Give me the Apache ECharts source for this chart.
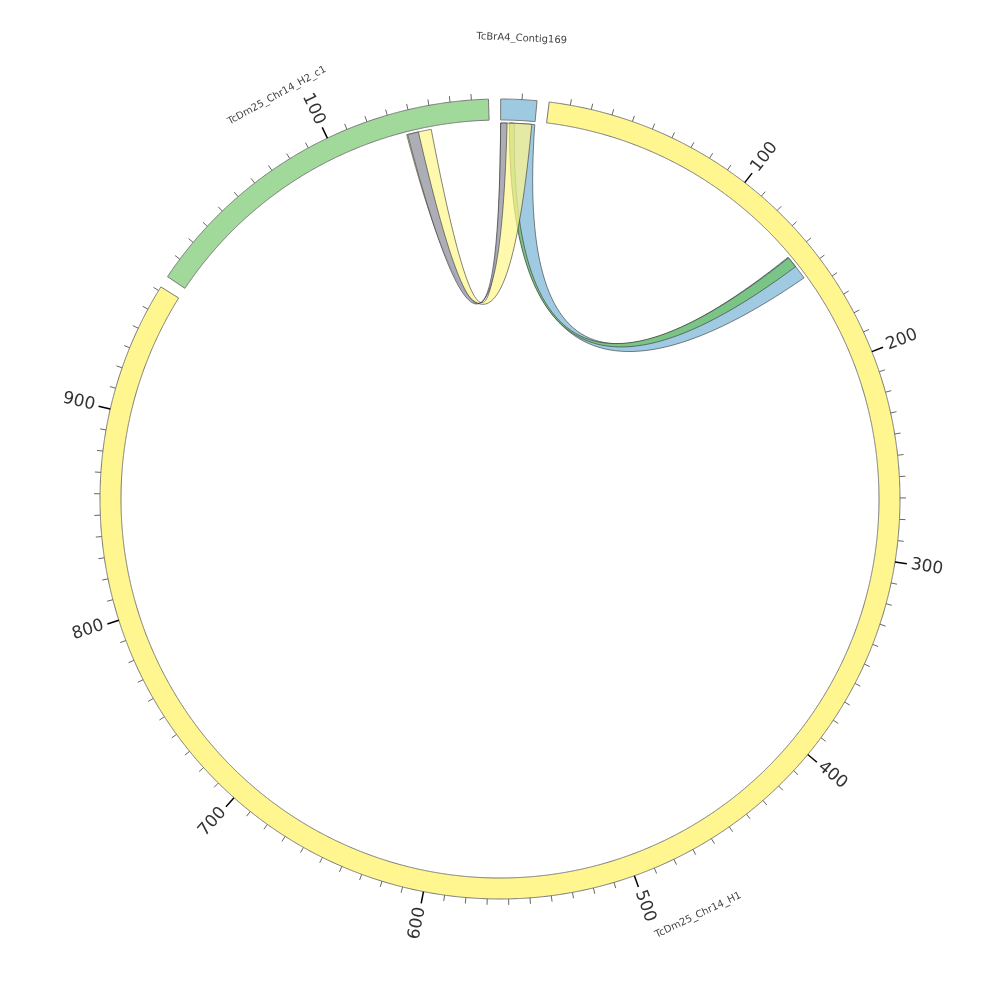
<!DOCTYPE html>
<html><head><meta charset="utf-8">
<script src="https://cdn.jsdelivr.net/npm/echarts@6/dist/echarts.min.js"></script>
<style>html,body{margin:0;padding:0;background:#fff}#c{width:1000px;height:1000px}</style>
</head><body><div id="c"></div>
<script>
// ---- data ----
const segNames = ['TcBrA4_Contig169', 'TcDm25_Chr14_H1', 'TcDm25_Chr14_H2_c1'];
const segLengths = [17, 962, 178];
const segColors = ['#9ecae1', '#fff68f', '#a1d99b'];
const majorTickStep = 100;
const minorTickStep = 10;
const tickLabelsH1 = ['100','200','300','400','500','600','700','800','900'];
const tickLabelsH2 = ['100'];
// chords (segment index, start, end) on both sides, drawn in this order
const chordSegA   = [1, 1, 2, 2];
const chordStartA = [140, 140.4, 136.5, 137];
const chordEndA   = [153, 146, 149, 142.5];
const chordSegB   = [0, 0, 0, 0];
const chordStartB = [4.5, 4.3, 0, 0];
const chordEndB   = [17, 6.8, 15.5, 3.2];
const chordColors = ['#8fc0dd', '#74c476', '#fff68f', '#9fa0b8'];
const chordAlpha  = [0.85, 0.85, 0.72, 0.85];

// ---- layout ----
const GAP = 5.71;
const offsets = []; let acc = 0;
segLengths.forEach(L => { offsets.push(acc); acc += L + GAP; });
const TOTAL = acc;
const R_OUT = 400, R_IN = 379, R_CHORD = 376, R_CTRL = 20;
const CX = 500, CY = 499;

function arcPts(api, r, a0, a1) {
  const n = Math.max(2, Math.ceil(Math.abs(a1 - a0) / 0.5));
  const pts = [];
  for (let k = 0; k <= n; k++) pts.push(api.coord([r, a0 + (a1 - a0) * k / n]));
  return pts;
}
function midAngle(a, b) {
  if (Math.abs(a - b) > TOTAL / 2) { if (a < b) a += TOTAL; else b += TOTAL; }
  return ((a + b) / 2) % TOTAL;
}
function quad(p0, c, p2) {
  const pts = [];
  for (let k = 1; k < 60; k++) {
    const t = k / 60, u = 1 - t;
    pts.push([u*u*p0[0] + 2*u*t*c[0] + t*t*p2[0], u*u*p0[1] + 2*u*t*c[1] + t*t*p2[1]]);
  }
  return pts;
}
function rgba(hex, a) {
  const n = parseInt(hex.slice(1), 16);
  return 'rgba(' + (n >> 16) + ',' + ((n >> 8) & 255) + ',' + (n & 255) + ',' + a + ')';
}
function thetaOf(api, p) {
  const c = api.coord([0, 0]);
  let th = Math.atan2(p[0] - c[0], c[1] - p[1]) * 180 / Math.PI;
  if (th < 0) th += 360;
  return th;
}

// tick lists
const minorTicks = [], majorTicks = [];
segLengths.forEach((L, i) => {
  for (let v = minorTickStep; v < L; v += minorTickStep) {
    if (v % majorTickStep !== 0) minorTicks.push([i, v]);
  }
});
tickLabelsH1.forEach(t => majorTicks.push([1, +t, t]));
tickLabelsH2.forEach(t => majorTicks.push([2, +t, t]));

const chart = echarts.init(document.getElementById('c'));
const dummy = n => Array.from({length: n}, (_, i) => [0, i]);

chart.setOption({
  animation: false,
  polar: { center: [CX, CY], radius: 500 },
  angleAxis: { type: 'value', min: 0, max: TOTAL, startAngle: 89.9, clockwise: true, show: false },
  radiusAxis: { type: 'value', min: 0, max: 500, show: false },
  series: [
    { // chords
      type: 'custom', coordinateSystem: 'polar', data: dummy(chordSegA.length), z: 2,
      renderItem(params, api) {
        const k = params.dataIndex;
        const s0 = offsets[chordSegA[k]] + chordStartA[k], s1 = offsets[chordSegA[k]] + chordEndA[k];
        const t0 = offsets[chordSegB[k]] + chordStartB[k], t1 = offsets[chordSegB[k]] + chordEndB[k];
        const c1 = api.coord([R_CTRL, midAngle(s1, t0)]);
        const c2 = api.coord([R_CTRL, midAngle(t1, s0)]);
        const A = arcPts(api, R_CHORD, s0, s1), B = arcPts(api, R_CHORD, t0, t1);
        const pts = A.concat(quad(A[A.length-1], c1, B[0])).concat(B).concat(quad(B[B.length-1], c2, A[0]));
        return { type: 'polygon', shape: { points: pts },
          style: { fill: rgba(chordColors[k], chordAlpha[k]), stroke: '#333', lineWidth: 0.6 } };
      }
    },
    { // ring
      type: 'custom', coordinateSystem: 'polar', data: dummy(segLengths.length), z: 3,
      renderItem(params, api) {
        const i = params.dataIndex;
        const a0 = offsets[i], a1 = offsets[i] + segLengths[i];
        const pts = arcPts(api, R_OUT, a0, a1).concat(arcPts(api, R_IN, a1, a0));
        return { type: 'polygon', shape: { points: pts },
          style: { fill: segColors[i], stroke: '#777', lineWidth: 1 } };
      }
    },
    { // minor ticks
      type: 'custom', coordinateSystem: 'polar', data: dummy(minorTicks.length), z: 3,
      renderItem(params, api) {
        const [i, v] = minorTicks[params.dataIndex];
        const a = offsets[i] + v;
        const p1 = api.coord([R_OUT, a]), p2 = api.coord([R_OUT + 6, a]);
        return { type: 'line', shape: { x1: p1[0], y1: p1[1], x2: p2[0], y2: p2[1] },
          style: { stroke: '#666', lineWidth: 1 } };
      }
    },
    { // major ticks + labels
      type: 'custom', coordinateSystem: 'polar', data: dummy(majorTicks.length), z: 3,
      renderItem(params, api) {
        const [i, v, lab] = majorTicks[params.dataIndex];
        const a = offsets[i] + v;
        const p1 = api.coord([R_OUT, a]), p2 = api.coord([R_OUT + 12, a]), p3 = api.coord([R_OUT + 16, a]);
        const th = thetaOf(api, p1);
        const right = th < 180;
        const rot = (right ? 90 - th : 270 - th) * Math.PI / 180;
        return { type: 'group', children: [
          { type: 'line', shape: { x1: p1[0], y1: p1[1], x2: p2[0], y2: p2[1] },
            style: { stroke: '#000', lineWidth: 1.5 } },
          { type: 'text', x: p3[0], y: p3[1], rotation: rot,
            style: { text: lab, fill: '#333', font: '17px "DejaVu Sans"',
              align: right ? 'left' : 'right', verticalAlign: 'middle' } }
        ] };
      }
    },
    { // segment names
      type: 'custom', coordinateSystem: 'polar', data: dummy(segNames.length), z: 3,
      renderItem(params, api) {
        const i = params.dataIndex;
        const a = offsets[i] + segLengths[i] / 2;
        const p = api.coord([461, a]);
        const th = thetaOf(api, p);
        const rot = (th > 90 && th < 270 ? 180 - th : -th) * Math.PI / 180;
        return { type: 'text', x: p[0], y: p[1], rotation: rot,
          style: { text: segNames[i], fill: '#444', font: '10px "DejaVu Sans"',
            align: 'center', verticalAlign: 'middle' } };
      }
    }
  ]
});
</script></body></html>
